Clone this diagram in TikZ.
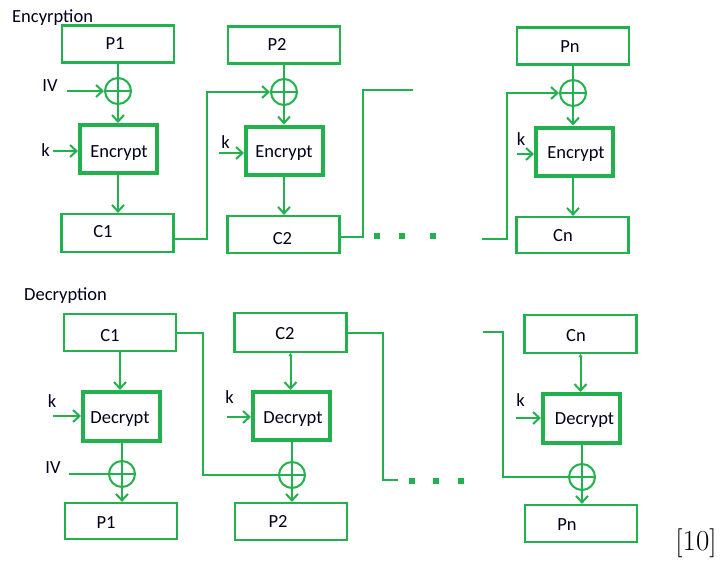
\documentclass[tikz,border=0pt]{standalone}
\usepackage{fontspec}
\setmainfont{Carlito}
\newfontfamily\lmrfont{Latin Modern Roman}
\usetikzlibrary{arrows.meta}
\definecolor{gc}{RGB}{34,177,76}

\tikzset{
  wire/.style={draw=gc, line width=2pt},
  arr/.style={wire, -{Straight Barb[length=6.5pt,width=12pt,line width=2pt]}},
  box/.style={draw=gc, line width=2.2pt, rectangle, inner sep=0pt,
              minimum width=112pt, minimum height=37pt},
  cipher/.style={draw=gc, line width=4pt, rectangle, inner sep=0pt,
              minimum width=77pt, minimum height=48pt},
  xorop/.style={circle, draw=gc, line width=2pt, minimum size=26pt, inner sep=0pt,
     path picture={\draw[gc, line width=2pt]
       (path picture bounding box.north) -- (path picture bounding box.south)
       (path picture bounding box.west) -- (path picture bounding box.east);}},
  txt/.style={anchor=base, inner sep=0pt, text=black!90!blue,
              font=\fontsize{18.5}{22}\selectfont},
  dot/.style={fill=gc, draw=none, minimum size=6.5pt, inner sep=0pt, rectangle},
}

\begin{document}
\begin{tikzpicture}[x=1pt, y=-1pt]
\useasboundingbox (0,0) rectangle (721,562);

% ---------------- Encryption ----------------
\node[txt, anchor=base west] (hEnc) at (12,23) {Encyrption};

% block 1
\node[box] (P1e) at (118,44) {};
\node[txt] (tP1e) at (115,49) {P1};
\node[xorop] (X1e) at (118,91) {};
\node[cipher] (E1) at (118.5,149) {};
\node[txt] (tE1) at (119,157) {Encrypt};
\node[box, minimum height=38pt] (C1e) at (117.5,233) {};
\node[txt] (tC1e) at (103,237) {C1};
\node[txt] (iv1) at (50,91) {IV};
\node[txt] (k1) at (45.5,156) {k};
\coordinate (iv1s) at (67,91);
\coordinate (k1s) at (53,151);

% block 2
\node[box] (P2e) at (284,45) {};
\node[txt] (tP2e) at (277,50) {P2};
\node[xorop] (X2e) at (284,92) {};
\node[cipher] (E2) at (284.5,150.5) {};
\node[txt] (tE2) at (284,157) {Encrypt};
\node[box] (C2e) at (283.5,234.5) {};
\node[txt] (tC2e) at (282.5,244) {C2};
\node[txt] (k2) at (225.5,148) {k};
\coordinate (k2s) at (219,153);

% block n
\node[box] (Pne) at (573,46) {};
\node[txt] (tPne) at (570,52) {Pn};
\node[xorop] (Xne) at (573,93) {};
\node[cipher] (En) at (574.5,151.5) {};
\node[txt] (tEn) at (576,158) {Encrypt};
\node[box, minimum height=36pt] (Cne) at (572.5,235) {};
\node[txt] (tCne) at (563,241) {Cn};
\node[txt] (kn) at (521,145) {k};
\coordinate (kns) at (517,154);

% vertical data path
\foreach \p/\x/\e/\c in {P1e/X1e/E1/C1e, P2e/X2e/E2/C2e, Pne/Xne/En/Cne}{
  \draw[wire] (\p.south) -- (\x.north);
  \draw[arr] (\x.south) -- (\x.south |- \e.north);
  \draw[arr] (\x.south |- \e.south) -- (\x.south |- \c.north);
}
\draw[arr] (iv1s) -- (X1e.west);
\draw[arr] (k1s) -- (k1s -| E1.west);
\draw[arr] (k2s) -- (k2s -| E2.west);
\draw[arr] (kns) -- (kns -| En.west);

% chaining of ciphertexts
\coordinate (b1) at (207,239);
\draw[arr] (b1 -| C1e.east) -- (b1) |- (X2e.west);
\coordinate (b2) at (363,237);
\coordinate (e2) at (413,90);
\draw[wire] (b2 -| C2e.east) -- (b2) |- (e2);
\coordinate (sn) at (482,239);
\coordinate (bn) at (507,239);
\draw[arr] (sn) -- (bn) |- (Xne.west);

\node[dot] (d1e) at (377,236) {};
\node[dot] (d2e) at (402,236) {};
\node[dot] (d3e) at (433,236) {};

% ---------------- Decryption ----------------
\node[txt, anchor=base west] (hDec) at (24,300) {Decryption};

% block 1
\node[box] (C1d) at (120,332.5) {};
\node[txt] (tC1d) at (110,341) {C1};
\node[cipher, minimum height=49pt] (D1) at (121.5,416.5) {};
\node[txt] (tD1) at (120,423) {Decrypt};
\node[xorop] (X1d) at (122,474) {};
\node[box, minimum height=36pt] (P1d) at (121,521) {};
\node[txt] (tP1d) at (106,528) {P1};
\node[txt] (kd1) at (52,407) {k};
\node[txt] (ivd) at (53,473) {IV};
\coordinate (kd1s) at (53,416);
\coordinate (ivds) at (69,474);

% block 2
\node[box, minimum height=39pt] (C2d) at (290.5,332.5) {};
\node[txt] (tC2d) at (285,339) {C2};
\node[cipher] (D2) at (291.5,416) {};
\node[txt] (tD2) at (293,423) {Decrypt};
\node[xorop] (X2d) at (292,475) {};
\node[box] (P2d) at (291,521.5) {};
\node[txt] (tP2d) at (278,527) {P2};
\node[txt] (kd2) at (229.5,403) {k};
\coordinate (kd2s) at (227,417);

% block n
\node[box, minimum height=38pt] (Cnd) at (580.5,334) {};
\node[txt] (tCnd) at (576,341) {Cn};
\node[cipher, minimum height=49pt] (Dn) at (581.5,418.5) {};
\node[txt] (tDn) at (584.5,424) {Decrypt};
\node[xorop] (Xnd) at (582,477) {};
\node[box] (Pnd) at (581,523.5) {};
\node[txt] (tPnd) at (567,530) {Pn};
\node[txt] (kdn) at (520.5,406) {k};
\coordinate (kdns) at (516,418);

% vertical data path
\draw[arr] (C1d.south) -- (C1d.south |- D1.north);
\draw[arr, {Triangle[length=3pt,width=4pt]}-{Straight Barb[length=6.5pt,width=12pt,line width=2pt]}]
  (C2d.south) -- (C2d.south |- D2.north);
\draw[arr, {Triangle[length=3pt,width=4pt]}-{Straight Barb[length=6.5pt,width=12pt,line width=2pt]}]
  (Cnd.south) -- (Cnd.south |- Dn.north);
\foreach \d/\x/\p in {D1/X1d/P1d, D2/X2d/P2d, Dn/Xnd/Pnd}{
  \draw[wire] (\x.north |- \d.south) -- (\x.north);
  \draw[arr] (\x.south) -- (\x.south |- \p.north);
}
\draw[wire] (ivds) -- (X1d.west);
\draw[arr] (kd1s) -- (kd1s -| D1.west);
\draw[arr] (kd2s) -- (kd2s -| D2.west);
\draw[arr] (kdns) -- (kdns -| Dn.west);

% chaining of ciphertexts
\coordinate (fd1) at (203,475);
\draw[wire] (C1d.east) -| (fd1) -- (X2d.west);
\coordinate (fd2) at (383,480);
\coordinate (ed2) at (398,480);
\draw[wire] (C2d.east) -| (fd2) -- (ed2);
\coordinate (snd) at (483,332);
\coordinate (bnd) at (503,332);
\draw[wire] (snd) -- (bnd) |- (Xnd.west);

\node[dot] (d1d) at (412,481) {};
\node[dot] (d2d) at (436,481) {};
\node[dot] (d3d) at (461,481) {};

% reference mark
\node[anchor=base, inner sep=0pt, font=\lmrfont\fontsize{29}{34}\selectfont] (ref) at (696,550) {[10]};
\end{tikzpicture}
\end{document}
